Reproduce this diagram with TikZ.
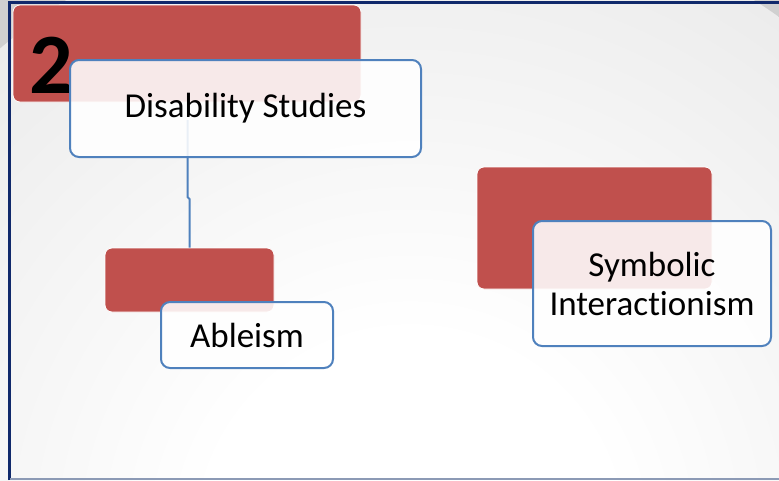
\documentclass[tikz,border=0pt]{standalone}
\usepackage{fontspec}
\setmainfont{Carlito}[Ligatures={NoCommon,NoRare,NoDiscretionary}]
\definecolor{boxred}{RGB}{192,80,77}
\definecolor{boxblue}{RGB}{79,129,189}
\definecolor{navy}{RGB}{16,41,107}
\definecolor{bggray}{RGB}{208,208,208}
\definecolor{bottomline}{RGB}{140,154,181}
\pgfdeclareradialshading{bgshade}{\pgfpoint{0bp}{0bp}}{color(0bp)=(white); color(8bp)=(white); color(50bp)=(bggray)}
\tikzset{
  redbox/.style={draw=white, line width=0.8pt, fill=boxred, rounded corners=7pt,
    inner sep=0pt, outer sep=0pt},
  textbox/.style={draw=boxblue, line width=2pt, fill=white, fill opacity=0.88,
    text opacity=1, rounded corners=9pt, inner sep=0pt, outer sep=0pt,
    align=center, font=\fontsize{35}{39}\selectfont},
  conn/.style={draw=boxblue, line width=2pt},
}
\begin{document}
\begin{tikzpicture}[x=1pt,y=-1pt]
\useasboundingbox (0,0) rectangle (779,480);
% background
\begin{scope}
  \clip (0,0) rectangle (779,480);
  \fill[bggray] (0,0) rectangle (779,480);
  \shade[shading=bgshade] (410,540) circle (640pt);
\end{scope}
% frame
\draw[navy, line width=2.5pt] (9.5,480) -- (9.5,2.5) -- (779,2.5);
\draw[bottomline, line width=1.5pt] (10,479.2) -- (779,479.2);
% group 1
\node[redbox, minimum width=348pt, minimum height=97pt] (red1) at (187,53.5) {};
\node[anchor=base, inner sep=0pt, font=\fontsize{86}{90}\selectfont\bfseries] (num) at (51,93.5) {2};
\coordinate (c0) at (187.5,120);
\draw[conn] (c0) -- (187.5,197) -- (189.5,199) coordinate (c1) -- (c1 |- 0,248);
\node[textbox, minimum width=351pt, minimum height=97pt] (dis) at (245.5,108.5) {Disability Studies};
% group 2
\node[redbox, minimum width=169pt, minimum height=64pt] (red2) at (189.5,280) {};
\node[textbox, minimum width=172pt, minimum height=66pt] (able) at (247,335) {Ableism};
% group 3
\node[redbox, minimum width=235pt, minimum height=122pt] (red3) at (594.5,228) {};
\node[textbox, minimum width=238pt, minimum height=125pt] (sym) at (652,283.5) {Symbolic\\Interactionism};
\end{tikzpicture}
\end{document}
